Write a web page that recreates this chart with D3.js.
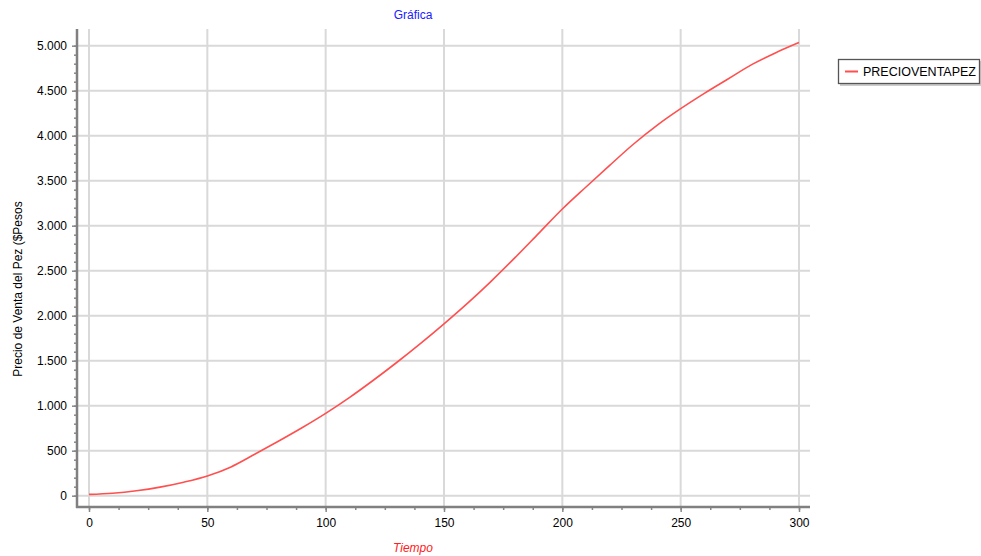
<!DOCTYPE html>
<html><head><meta charset="utf-8">
<script src="https://cdn.jsdelivr.net/npm/d3@7"></script>
<style>body{margin:0;background:#fff}svg{display:block}text{font-family:"Liberation Sans",Arial,sans-serif}</style>
</head><body>
<svg id="c" width="981" height="556"></svg>
<script>
const tiempo = [0,10,20,30,40,50,60,70,80,90,100,110,120,130,140,150,160,170,180,190,200,210,220,230,240,250,260,270,280,290,300];
const precioVentaPez = [15,28,55,95,150,219,320,460,605,755,915,1090,1280,1480,1690,1910,2140,2385,2645,2915,3185,3430,3670,3905,4115,4300,4470,4630,4790,4920,5035];
const xTicks = [0,50,100,150,200,250,300];
const yTicks = [0,500,1000,1500,2000,2500,3000,3500,4000,4500,5000];
const seriesName = "PRECIOVENTAPEZ";
const title = "Gráfica", xTitle = "Tiempo", yTitle = "Precio de Venta del Pez ($Pesos";

const svg = d3.select("#c");
const L = 77, R = 810, T = 29, B = 507;
const x = d3.scaleLinear().domain([0,300]).range([89,799]);
const y = d3.scaleLinear().domain([0,5000]).range([495.7,45.7]);
const fmt = d => d3.format(",")(d).replace(/,/g,".");

// grid
svg.append("g").selectAll("line").data(xTicks).join("line")
  .attr("x1",d=>x(d)).attr("x2",d=>x(d)).attr("y1",T).attr("y2",B)
  .attr("stroke","#d9d9d9").attr("stroke-width",2);
svg.append("g").selectAll("line").data(yTicks).join("line")
  .attr("x1",L).attr("x2",R).attr("y1",d=>y(d)).attr("y2",d=>y(d))
  .attr("stroke","#d9d9d9").attr("stroke-width",2);

// y axis
const ya = svg.append("g").attr("transform",`translate(${L},0)`)
  .call(d3.axisLeft(y).tickValues(d3.range(0,5001,100)).tickSize(3).tickFormat(""));
const yb = svg.append("g").attr("transform",`translate(${L},0)`)
  .call(d3.axisLeft(y).tickValues(yTicks).tickSize(5).tickPadding(5).tickFormat(fmt));
[ya,yb].forEach(g=>{g.select(".domain").remove(); g.selectAll(".tick line").attr("stroke","#888").attr("stroke-width",1.5);});
yb.selectAll("text").attr("font-size",12).attr("fill","#000").attr("font-family","Liberation Sans, Arial, sans-serif");
svg.append("line").attr("x1",L).attr("x2",L).attr("y1",T).attr("y2",B+1).attr("stroke","#808080").attr("stroke-width",2.5);

// x axis
const xa = svg.append("g").attr("transform",`translate(0,${B})`)
  .call(d3.axisBottom(x).tickValues(d3.range(0,301,12.5)).tickSize(3).tickFormat(""));
const xb = svg.append("g").attr("transform",`translate(0,${B})`)
  .call(d3.axisBottom(x).tickValues(xTicks).tickSize(5).tickPadding(6).tickFormat(d3.format("d")));
[xa,xb].forEach(g=>{g.select(".domain").remove(); g.selectAll(".tick line").attr("stroke","#888").attr("stroke-width",1.5);});
xb.selectAll("text").attr("font-size",12).attr("fill","#000").attr("font-family","Liberation Sans, Arial, sans-serif");
svg.append("line").attr("x1",L-1).attr("x2",R).attr("y1",B).attr("y2",B).attr("stroke","#808080").attr("stroke-width",2.5);

// line
const data = tiempo.map((t,i)=>[t,precioVentaPez[i]]);
svg.append("path").datum(data)
  .attr("d",d3.line().x(d=>x(d[0])).y(d=>y(d[1])).curve(d3.curveMonotoneX))
  .attr("fill","none").attr("stroke","#ff4f4f").attr("stroke-width",1.6);

// titles
svg.append("text").attr("x",413).attr("y",19).attr("text-anchor","middle").attr("font-size",12).attr("fill","#2020ff").text(title);
svg.append("text").attr("x",413).attr("y",552).attr("text-anchor","middle").attr("font-size",12).attr("font-style","italic").attr("fill","#ff2020").text(xTitle);
svg.append("text").attr("transform","translate(22,289) rotate(-90)").attr("text-anchor","middle").attr("font-size",12).attr("fill","#000").text(yTitle);

// legend
svg.append("rect").attr("x",840).attr("y",61).attr("width",141).attr("height",25).attr("fill","#ccc");
svg.append("rect").attr("x",838.5).attr("y",59.5).attr("width",141).attr("height",24).attr("fill","#fff").attr("stroke","#555").attr("stroke-width",1.3);
svg.append("line").attr("x1",845).attr("x2",858).attr("y1",71.5).attr("y2",71.5).attr("stroke","#ff4f4f").attr("stroke-width",2);
svg.append("text").attr("x",863).attr("y",76).attr("font-size",12.5).attr("fill","#000").text(seriesName);
</script>
</body></html>
